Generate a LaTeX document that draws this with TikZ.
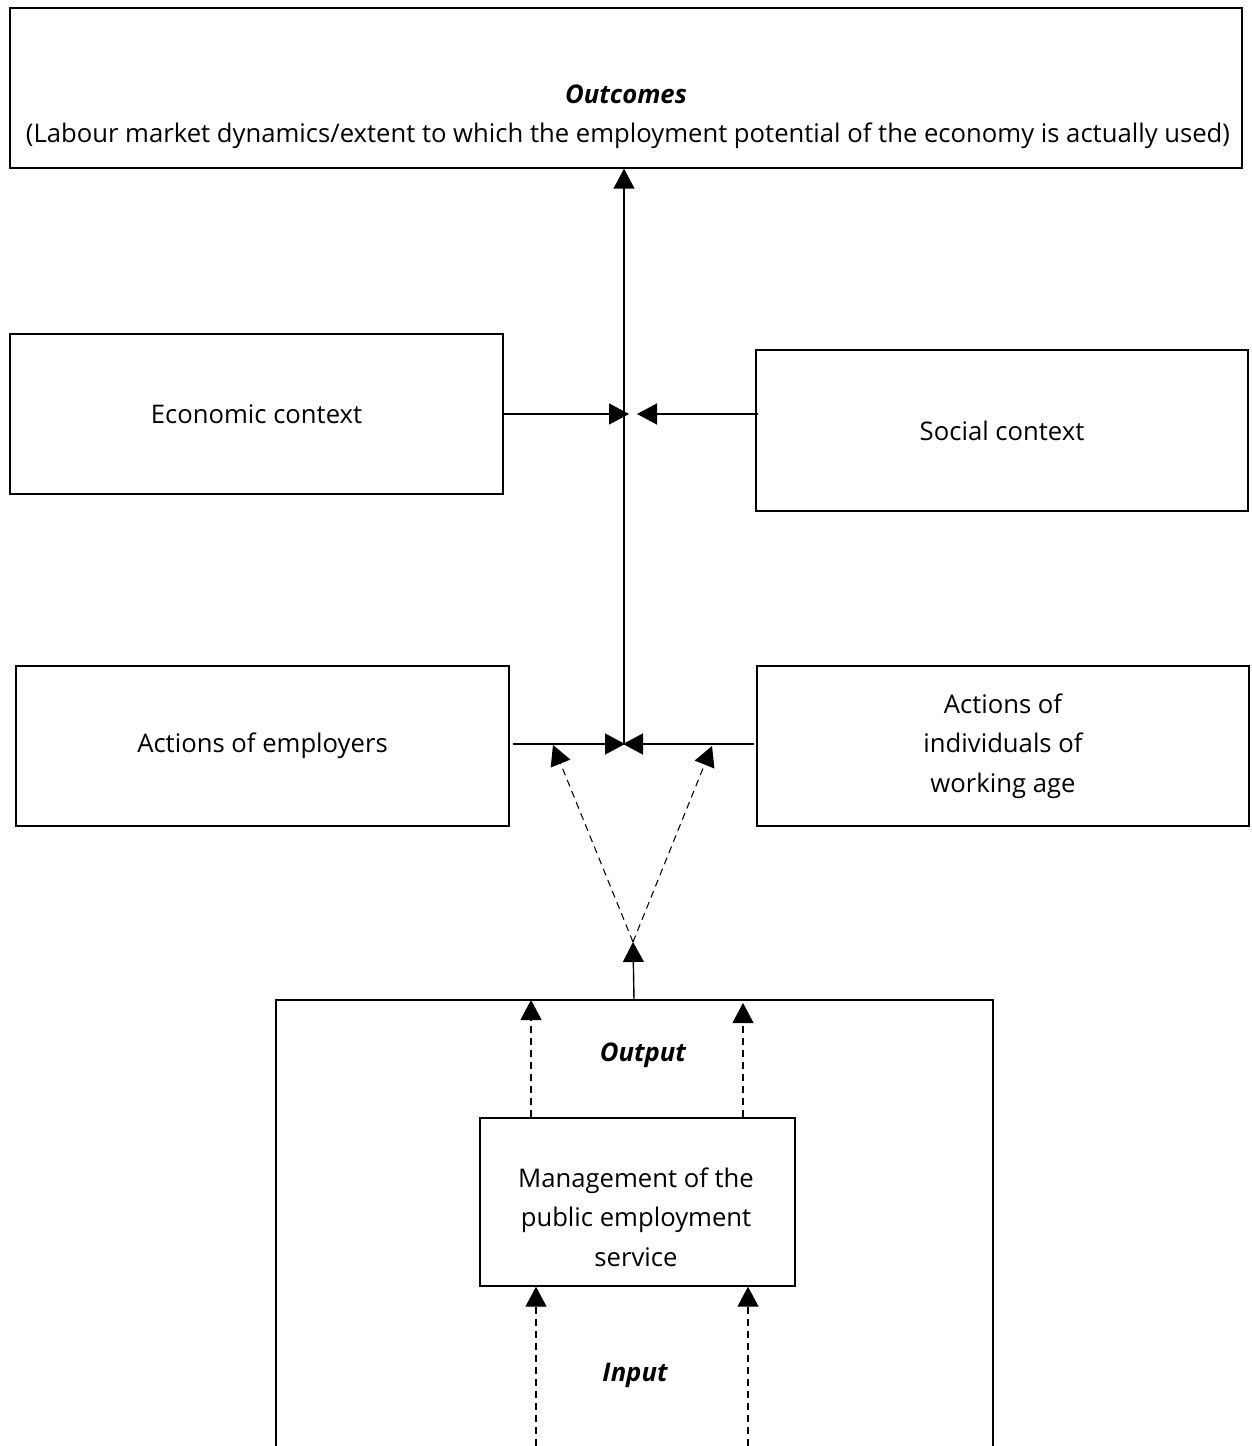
\documentclass[tikz,border=0pt]{standalone}
\usepackage{fontspec}
\setmainfont{Open Sans}
\usetikzlibrary{arrows.meta}
\begin{document}
\begin{tikzpicture}[x=0.02cm,y=-0.02cm,
  txt/.style={font=\fontsize{14.6}{22.4}\selectfont,align=center},
  box/.style={draw,line width=0.8pt,inner sep=0pt,txt},
  arr/.style={line width=0.8pt,-{Triangle[length=0.4cm,width=0.42cm]}},
  darr/.style={line width=0.6pt,dash pattern=on 0.14cm off 0.1cm,-{Triangle[length=0.4cm,width=0.42cm]}},
  lbl/.style={font=\fontsize{14.6}{22.4}\selectfont\itshape\bfseries}]
\useasboundingbox (0,0) rectangle (1251,1446);
\node[box,minimum width=24.64cm,minimum height=3.2cm] (out) at (626,88) {};
\node[lbl] (outt) at (626,94) {Outcomes};
\node[txt] (outs) at (628,136) {(Labour market dynamics/extent to which the employment potential of the economy is actually used)};
\node[box,minimum width=9.86cm,minimum height=3.2cm] (econ) at (256.5,414) {Economic context};
\node[box,minimum width=9.84cm,minimum height=3.22cm] (soc) at (1002,430.5) {Social context};
\node[box,minimum width=9.86cm,minimum height=3.2cm] (emp) at (262.5,746) {Actions of employers};
\node[box,minimum width=9.84cm,minimum height=3.2cm] (ind) at (1003,746) {Actions of\\individuals of\\working age};
\node[box,minimum width=6.3cm,minimum height=3.36cm] (mgmt) at (637.5,1202) {};
\node[txt] (mgmtt) at (636,1217) {Management of the\\public employment\\service};
\draw[line width=0.8pt] (276,1446) -- (276,1000) -- (993,1000) -- (993,1446);
\node[lbl] (outp) at (643,1055) {Output};
\node[lbl] (inp) at (635,1375) {Input};
\coordinate (j) at (624,744);
\coordinate (ce) at (629,414);
\coordinate (cs) at (637,414);
\coordinate (jl) at (625,744);
\coordinate (jr) at (623,744);
\coordinate (apex) at (633,942);
\coordinate (dl) at (553,745);
\coordinate (dr) at (712,746);
\coordinate (bt) at (634,1000);
\coordinate (ot1) at (531,1000);
\coordinate (ot2) at (743,1003);
\coordinate (ib1) at (536,1446);
\coordinate (ib2) at (748,1446);
\draw[arr] (j) -- (j |- out.south);
\draw[arr] (econ.east |- ce) -- (ce);
\draw[arr] ([xshift=0.06cm]soc.west |- cs) -- (cs);
\draw[arr] ([xshift=0.06cm]emp.east |- j) -- (jl);
\draw[arr] ([xshift=-0.04cm]ind.west |- j) -- (jr);
\draw[darr] (apex) -- (dl);
\draw[darr] (apex) -- (dr);
\draw[arr] (bt) -- (apex);
\draw[darr] (mgmt.north -| ot1) -- (ot1);
\draw[darr] (mgmt.north -| ot2) -- (ot2);
\draw[darr] (ib1) -- (mgmt.south -| ib1);
\draw[darr] (ib2) -- (mgmt.south -| ib2);
\end{tikzpicture}
\end{document}
